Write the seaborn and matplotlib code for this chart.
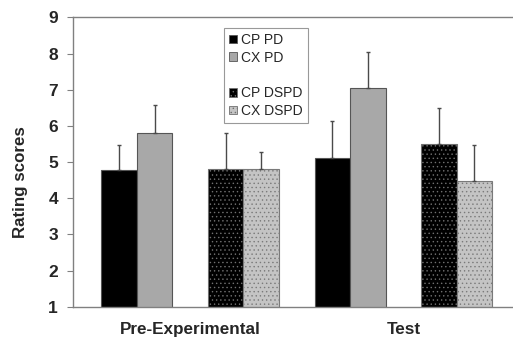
import matplotlib
matplotlib.use("Agg")
import matplotlib.pyplot as plt
import seaborn as sns
import pandas as pd
import numpy as np
from matplotlib.patches import Patch

# ---- data ----
clusters = ["Pre PD", "Pre DSPD", "Test PD", "Test DSPD"]
sides = ["CP", "CX"]
cp_values = [4.78, 4.81, 5.12, 5.49]
cx_values = [5.79, 4.81, 7.04, 4.47]
cp_errors = [0.69, 1.00, 1.02, 0.99]
cx_errors = [0.78, 0.46, 1.00, 1.00]
series_labels = ["CP PD", "CX PD", "CP DSPD", "CX DSPD"]
group_labels = ["Pre-Experimental", "Test"]
y_ticks = [1, 2, 3, 4, 5, 6, 7, 8, 9]

df = pd.DataFrame({
    "cluster": clusters * 2,
    "side": ["CP"] * 4 + ["CX"] * 4,
    "value": cp_values + cx_values,
})

sns.set_theme(style="white")
plt.rcParams["font.family"] = ["Liberation Sans", "DejaVu Sans"]
plt.rcParams["hatch.linewidth"] = 0.5

fig = plt.figure(figsize=(5.13, 3.40), dpi=100)
ax = fig.add_axes([0.1429, 0.098, 0.8571, 0.851])

sns.barplot(data=df, x="cluster", y="value", hue="side", order=clusters,
            hue_order=sides, width=0.666, dodge=True, legend=False,
            errorbar=None, ax=ax, bottom=0)

face = {("CP", "PD"): "#000000", ("CX", "PD"): "#a8a8a8",
        ("CP", "DSPD"): "#000000", ("CX", "DSPD"): "#c4c4c4"}
bars = [p for p in ax.patches]
xs, ys = [], []
for i, p in enumerate(bars):
    side = sides[i // 4]
    kind = clusters[i % 4].split()[1]
    p.set_facecolor(face[(side, kind)])
    if kind == "DSPD":
        p.set_hatch("....")
        p.set_edgecolor("#707070" if side == "CP" else "#7a7a7a")
    else:
        p.set_edgecolor("#555555")
    p.set_linewidth(0.8)
    xs.append(p.get_x() + p.get_width() / 2)
    ys.append(p.get_height())
errs = cp_errors + cx_errors
ax.errorbar(xs, ys, yerr=[np.zeros(len(errs)), errs], fmt="none",
            ecolor="#4a4a4a", elinewidth=1.0, capsize=1.6, capthick=1.0,
            zorder=3)

ax.set_ylim(1, 9)
ax.set_xlim(-0.597, 3.529)
ax.set_yticks(y_ticks)
ax.set_yticklabels([str(t) for t in y_ticks], fontsize=12.5, fontweight="bold")
ax.set_xticks([0.5, 2.5])
ax.set_xticklabels(group_labels, fontsize=12.3, fontweight="bold")
ax.tick_params(axis="x", length=0, pad=11)
ax.tick_params(axis="y", length=4, width=0.8, color="#808080", pad=7,
               left=True, direction="out")
ax.set_xlabel("")
ax.set_ylabel("Rating scores", fontsize=12.2, fontweight="bold")
ax.yaxis.set_label_coords(-0.102, 0.429)

for s in ["left", "bottom", "top"]:
    ax.spines[s].set_color("#808080")
    ax.spines[s].set_linewidth(1.0)
ax.spines["right"].set_visible(False)

handles = [
    Patch(facecolor="#000000", edgecolor="#555555", linewidth=0.6),
    Patch(facecolor="#a8a8a8", edgecolor="#555555", linewidth=0.6),
    Patch(facecolor="none", edgecolor="none"),
    Patch(facecolor="#000000", edgecolor="#707070", hatch="....", linewidth=0.6),
    Patch(facecolor="#c4c4c4", edgecolor="#707070", hatch="....", linewidth=0.6),
]
labels = [series_labels[0], series_labels[1], "", series_labels[2], series_labels[3]]
leg = ax.legend(handles, labels, loc="upper left", bbox_to_anchor=(0.343, 0.964),
                borderaxespad=0, fontsize=10, frameon=True, fancybox=False,
                handlelength=0.55, handleheight=0.55, handletextpad=0.35,
                labelspacing=0.28, borderpad=0.35)
leg.get_frame().set_edgecolor("#808080")
leg.get_frame().set_linewidth(0.8)

fig.savefig("out.png", dpi=100)
